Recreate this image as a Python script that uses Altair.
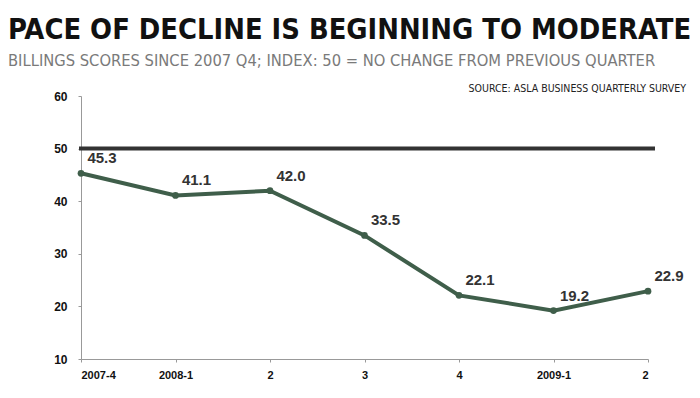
import altair as alt
import pandas as pd

quarters = ["2007-4", "2008-1", "2", "3", "4", "2009-1", "2"]
scores = [45.3, 41.1, 42.0, 33.5, 22.1, 19.2, 22.9]
y_ticks = [10, 20, 30, 40, 50, 60]
baseline_value = [50]

df = pd.DataFrame({"idx": list(range(len(quarters))), "label": quarters, "score": scores})
df["text"] = df["score"].map(lambda v: f"{v:.1f}")
ref = pd.DataFrame({"y": baseline_value})

label_expr = "[" + ",".join(f"'{q}'" for q in quarters) + "][datum.value]"

COND = "'DejaVu Sans Condensed', 'Liberation Sans Narrow', 'Arial Narrow', Roboto, sans-serif"

x_enc = alt.X("idx:Q", scale=alt.Scale(domain=[0, len(quarters) - 1], nice=False, zero=False),
              axis=alt.Axis(values=list(range(len(quarters))), labelExpr=label_expr, title=None,
                            grid=False, domainColor="#999999", tickColor="#999999", tickSize=3,
                            labelFont="Liberation Sans", labelFontWeight="bold", labelFontSize=11,
                            labelColor="#111111", labelPadding=7))
y_enc = alt.Y("score:Q", scale=alt.Scale(domain=[10, 60], nice=False, zero=False),
              axis=alt.Axis(values=y_ticks, title=None, grid=False, domainColor="#999999",
                            tickColor="#999999", tickSize=3, labelFont="Liberation Sans",
                            labelFontWeight="bold", labelFontSize=12, labelColor="#111111",
                            labelPadding=11))

rule = alt.Chart(ref).mark_rule(color="#333333", strokeWidth=4).encode(
    y=alt.Y("y:Q", scale=alt.Scale(domain=[10, 60])),
    x=alt.value(-2), x2=alt.value(574))

line = alt.Chart(df).mark_line(color="#3f5e4a", strokeWidth=4,
                               point=alt.OverlayMarkDef(color="#3f5e4a", size=45, filled=True, opacity=1)).encode(
    x=x_enc, y=y_enc)

labels = alt.Chart(df).mark_text(font="Liberation Sans", fontWeight="bold", fontSize=15,
                                 color="#333333", dx=21, dy=-15).encode(
    x="idx:Q", y="score:Q", text="text:N")

source = alt.Chart(ref).mark_text(text="SOURCE: ASLA BUSINESS QUARTERLY SURVEY", font=COND,
                                  fontSize=10.5, color="#222222", align="right", baseline="alphabetic").encode(
    x=alt.value(605), y=alt.value(-4))

chart = alt.layer(rule, line, labels, source).properties(
    width=567, height=263,
    autosize=alt.AutoSizeParams(type="none"),
    padding={"left": 73, "top": 88, "right": 44, "bottom": 31},
    title=alt.TitleParams(
        text="PACE OF DECLINE IS BEGINNING TO MODERATE",
        subtitle="BILLINGS SCORES SINCE 2007 Q4; INDEX: 50 = NO CHANGE FROM PREVIOUS QUARTER",
        anchor="start", frame="group", dx=-73, offset=15,
        font=COND, fontWeight="bold", fontSize=28.8, color="#111111",
        subtitleFont=COND, subtitleFontWeight="normal", subtitleFontSize=16.4,
        subtitleColor="#7a7a7a", subtitlePadding=8),
).configure_view(stroke=None)

chart.save("out.html", embed_options={"renderer": "svg", "actions": False})
